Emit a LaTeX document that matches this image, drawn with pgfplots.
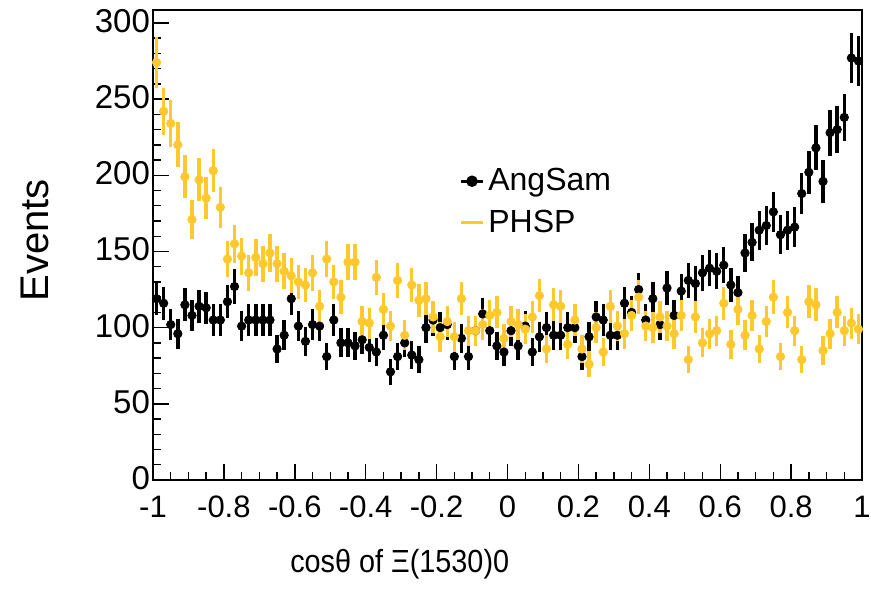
\documentclass[border=0pt]{standalone}
\usepackage{pgfplots}
\pgfplotsset{compat=1.18}
\usepackage{pgfplotstable}
\usepackage{graphicx}
\usepackage{fontspec}
\setmainfont{Liberation Sans}
\definecolor{phsp}{RGB}{255,200,45}

% cos(theta) bins, AngSam (a) and PHSP (p) counts
\pgfplotstableread{
x a p
-0.99 119 274
-0.97 116 242
-0.95 102 234
-0.93 96 220
-0.91 115 199
-0.89 108 171
-0.87 114 197
-0.85 113 185
-0.83 105 203
-0.81 105 179
-0.79 117 145
-0.77 127 155
-0.75 101 147
-0.73 105 136
-0.71 105 146
-0.69 105 142
-0.67 105 149
-0.65 86 142
-0.63 95 137
-0.61 119 134
-0.59 101 130
-0.57 91 128
-0.55 102 136
-0.53 101 114
-0.51 81 145
-0.49 105 130
-0.47 90 120
-0.45 90 143
-0.43 88 143
-0.41 92 104
-0.39 87 103
-0.37 84 133
-0.35 95 112
-0.33 71 101
-0.31 81 131
-0.29 90 95
-0.27 82 128
-0.25 79 118
-0.23 100 119
-0.21 105 107
-0.19 100 94
-0.17 102 104
-0.15 81 94
-0.13 93 119
-0.11 81 98
-0.09 98 98
-0.07 109 102
-0.05 98 108
-0.03 88 110
-0.01 84 93
0.01 98 104
0.03 88 102
0.05 101 99
0.07 84 107
0.09 94 121
0.11 100 86
0.13 95 115
0.15 95 114
0.17 100 89
0.19 100 105
0.21 81 86
0.23 94 76
0.25 107 100
0.27 105 84
0.29 95 114
0.31 95 101
0.33 116 96
0.35 110 108
0.37 125 120
0.39 105 101
0.41 119 100
0.43 102 107
0.45 126 101
0.47 108 96
0.49 124 108
0.51 131 79
0.53 129 107
0.55 136 90
0.57 139 96
0.59 137 98
0.61 141 116
0.63 128 89
0.65 123 112
0.67 149 95
0.69 156 108
0.71 164 86
0.73 167 104
0.75 176 120
0.77 161 81
0.79 164 110
0.81 166 98
0.83 188 79
0.85 202 117
0.87 218 115
0.89 196 85
0.91 228 96
0.93 230 110
0.95 238 98
0.97 277 103
0.99 275 99
}\data

\begin{document}
\begin{tikzpicture}
\begin{axis}[
  at={(0,0)}, anchor=south west,
  scale only axis,
  width=354.5pt, height=235pt,
  xmin=-1, xmax=1,
  ymin=0, ymax=308.5,
  xtick={-1,-0.8,-0.6,-0.4,-0.2,0,0.2,0.4,0.6,0.8,1},
  xticklabels={-1,-0.8,-0.6,-0.4,-0.2,0,0.2,0.4,0.6,0.8,1},
  ytick={0,50,100,150,200,250,300},
  minor x tick num=3,
  minor y tick num=4,
  xtick pos=bottom, ytick pos=left,
  tick align=inside,
  major tick length=8pt,
  minor tick length=4pt,
  every tick/.style={black, line width=0.7pt},
  axis line style={line width=1.2pt},
  /pgf/number format/assume math mode=true,
  xticklabel style={font=\fontsize{15.5}{18}\selectfont, yshift=-4.5pt},
  yticklabel style={font=\fontsize{16.5}{19}\selectfont, xshift=2pt, yshift=1pt},
  xlabel={\scalebox{0.9}[1]{cosθ of Ξ(1530)0}},
  ylabel={Events},
  xlabel style={font=\fontsize{16}{19}\selectfont, at={(axis description cs:0.348,-0.18)}, anchor=center},
  ylabel style={font=\fontsize{20}{24}\selectfont, at={(axis description cs:-0.166,0.51)}, anchor=center},
  legend style={draw=none, fill=none, at={(axis description cs:0.432,0.672)}, anchor=north west,
    font=\fontsize{16}{19}\selectfont, row sep=4pt, inner sep=0pt,
    legend cell align=left},
  legend image code/.code={\draw[mark repeat=2, mark phase=2] plot coordinates {(0cm,0cm) (0.19cm,0cm) (0.38cm,0cm)};},
]
\addplot[black, only marks, mark=*, mark size=2.1pt, forget plot,
  error bars/.cd, y dir=both, y explicit, error mark=none,
  error bar style={line width=1.7pt, black}]
  table[x=x, y=a, y error expr=sqrt(\thisrow{a})] {\data};
\addplot[phsp, only marks, mark=*, mark size=2.1pt, forget plot,
  error bars/.cd, y dir=both, y explicit, error mark=none,
  error bar style={line width=1.7pt, phsp}]
  table[x=x, y=p, y error expr=sqrt(\thisrow{p})] {\data};
\addlegendimage{black, line width=1.5pt, mark=*, mark size=2.1pt}
\addlegendentry{AngSam}
\addlegendimage{phsp, line width=1.5pt, mark=none}
\addlegendentry{PHSP}
\end{axis}
\pgfresetboundingbox
\path[use as bounding box] (-76.5pt,-54pt) rectangle (359pt,240pt);
\end{tikzpicture}
\end{document}
